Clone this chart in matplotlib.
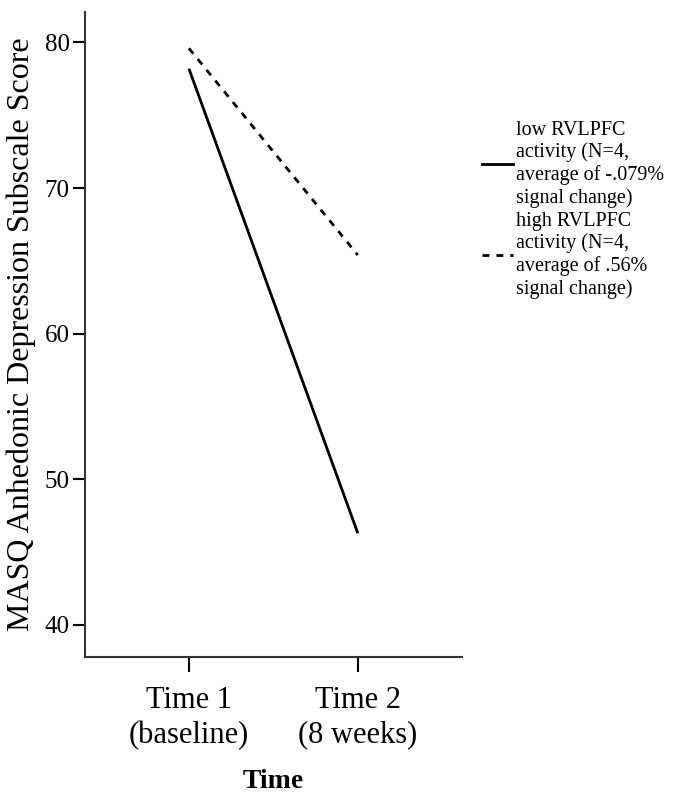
import matplotlib.pyplot as plt
from matplotlib.lines import Line2D

# values
time_labels = ['Time 1\n(baseline)', 'Time 2\n(8 weeks)']
low_rvlpfc = [78.2, 46.3]
high_rvlpfc = [79.6, 65.4]
series_labels = ['low RVLPFC\nactivity (N=4,\naverage of -.079%\nsignal change)',
                 'high RVLPFC\nactivity (N=4,\naverage of .56%\nsignal change)']

plt.rcParams['font.family'] = ['Liberation Serif', 'DejaVu Serif']

fig = plt.figure(figsize=(6.75, 7.93), dpi=100)
ax = fig.add_axes([0.126, 0.1715, 0.558, 0.8135])

x = range(len(time_labels))
ax.plot(x, low_rvlpfc, color='black', lw=2, solid_capstyle='butt')
ax.plot(x, high_rvlpfc, color='black', lw=2, ls=(0, (2.5, 2.5)))

ax.set_xlim(-0.615, 1.615)
ax.set_ylim(37.8, 82.1)
ax.set_yticks([40, 50, 60, 70, 80])
ax.set_xticks(list(x))
ax.set_xticklabels(time_labels, fontsize=22, linespacing=1.25)
ax.tick_params(axis='y', labelsize=18, length=9, width=1.5, pad=2)
ax.tick_params(axis='x', length=11, width=1.5, pad=10)

for side in ['top', 'right']:
    ax.spines[side].set_visible(False)
for side in ['left', 'bottom']:
    ax.spines[side].set_color('#333333')
    ax.spines[side].set_linewidth(1.5)

ax.set_ylabel('MASQ Anhedonic Depression Subscale Score', fontsize=23, labelpad=6)
ax.set_xlabel('Time', fontsize=20, fontweight='bold', labelpad=14)

handles = [Line2D([], [], color='black', lw=2),
           Line2D([], [], color='black', lw=2, ls=(0, (2.5, 2.5)))]
fig.legend(handles, series_labels, loc='upper left', bbox_to_anchor=(0.714, 0.848),
           frameon=False, fontsize=14.5, handlelength=1.55, handletextpad=0.15,
           labelspacing=0.2, borderpad=0, borderaxespad=0)
for t in fig.legends[0].get_texts():
    t.set_linespacing(1.2)

fig.savefig('out.png', dpi=100)
